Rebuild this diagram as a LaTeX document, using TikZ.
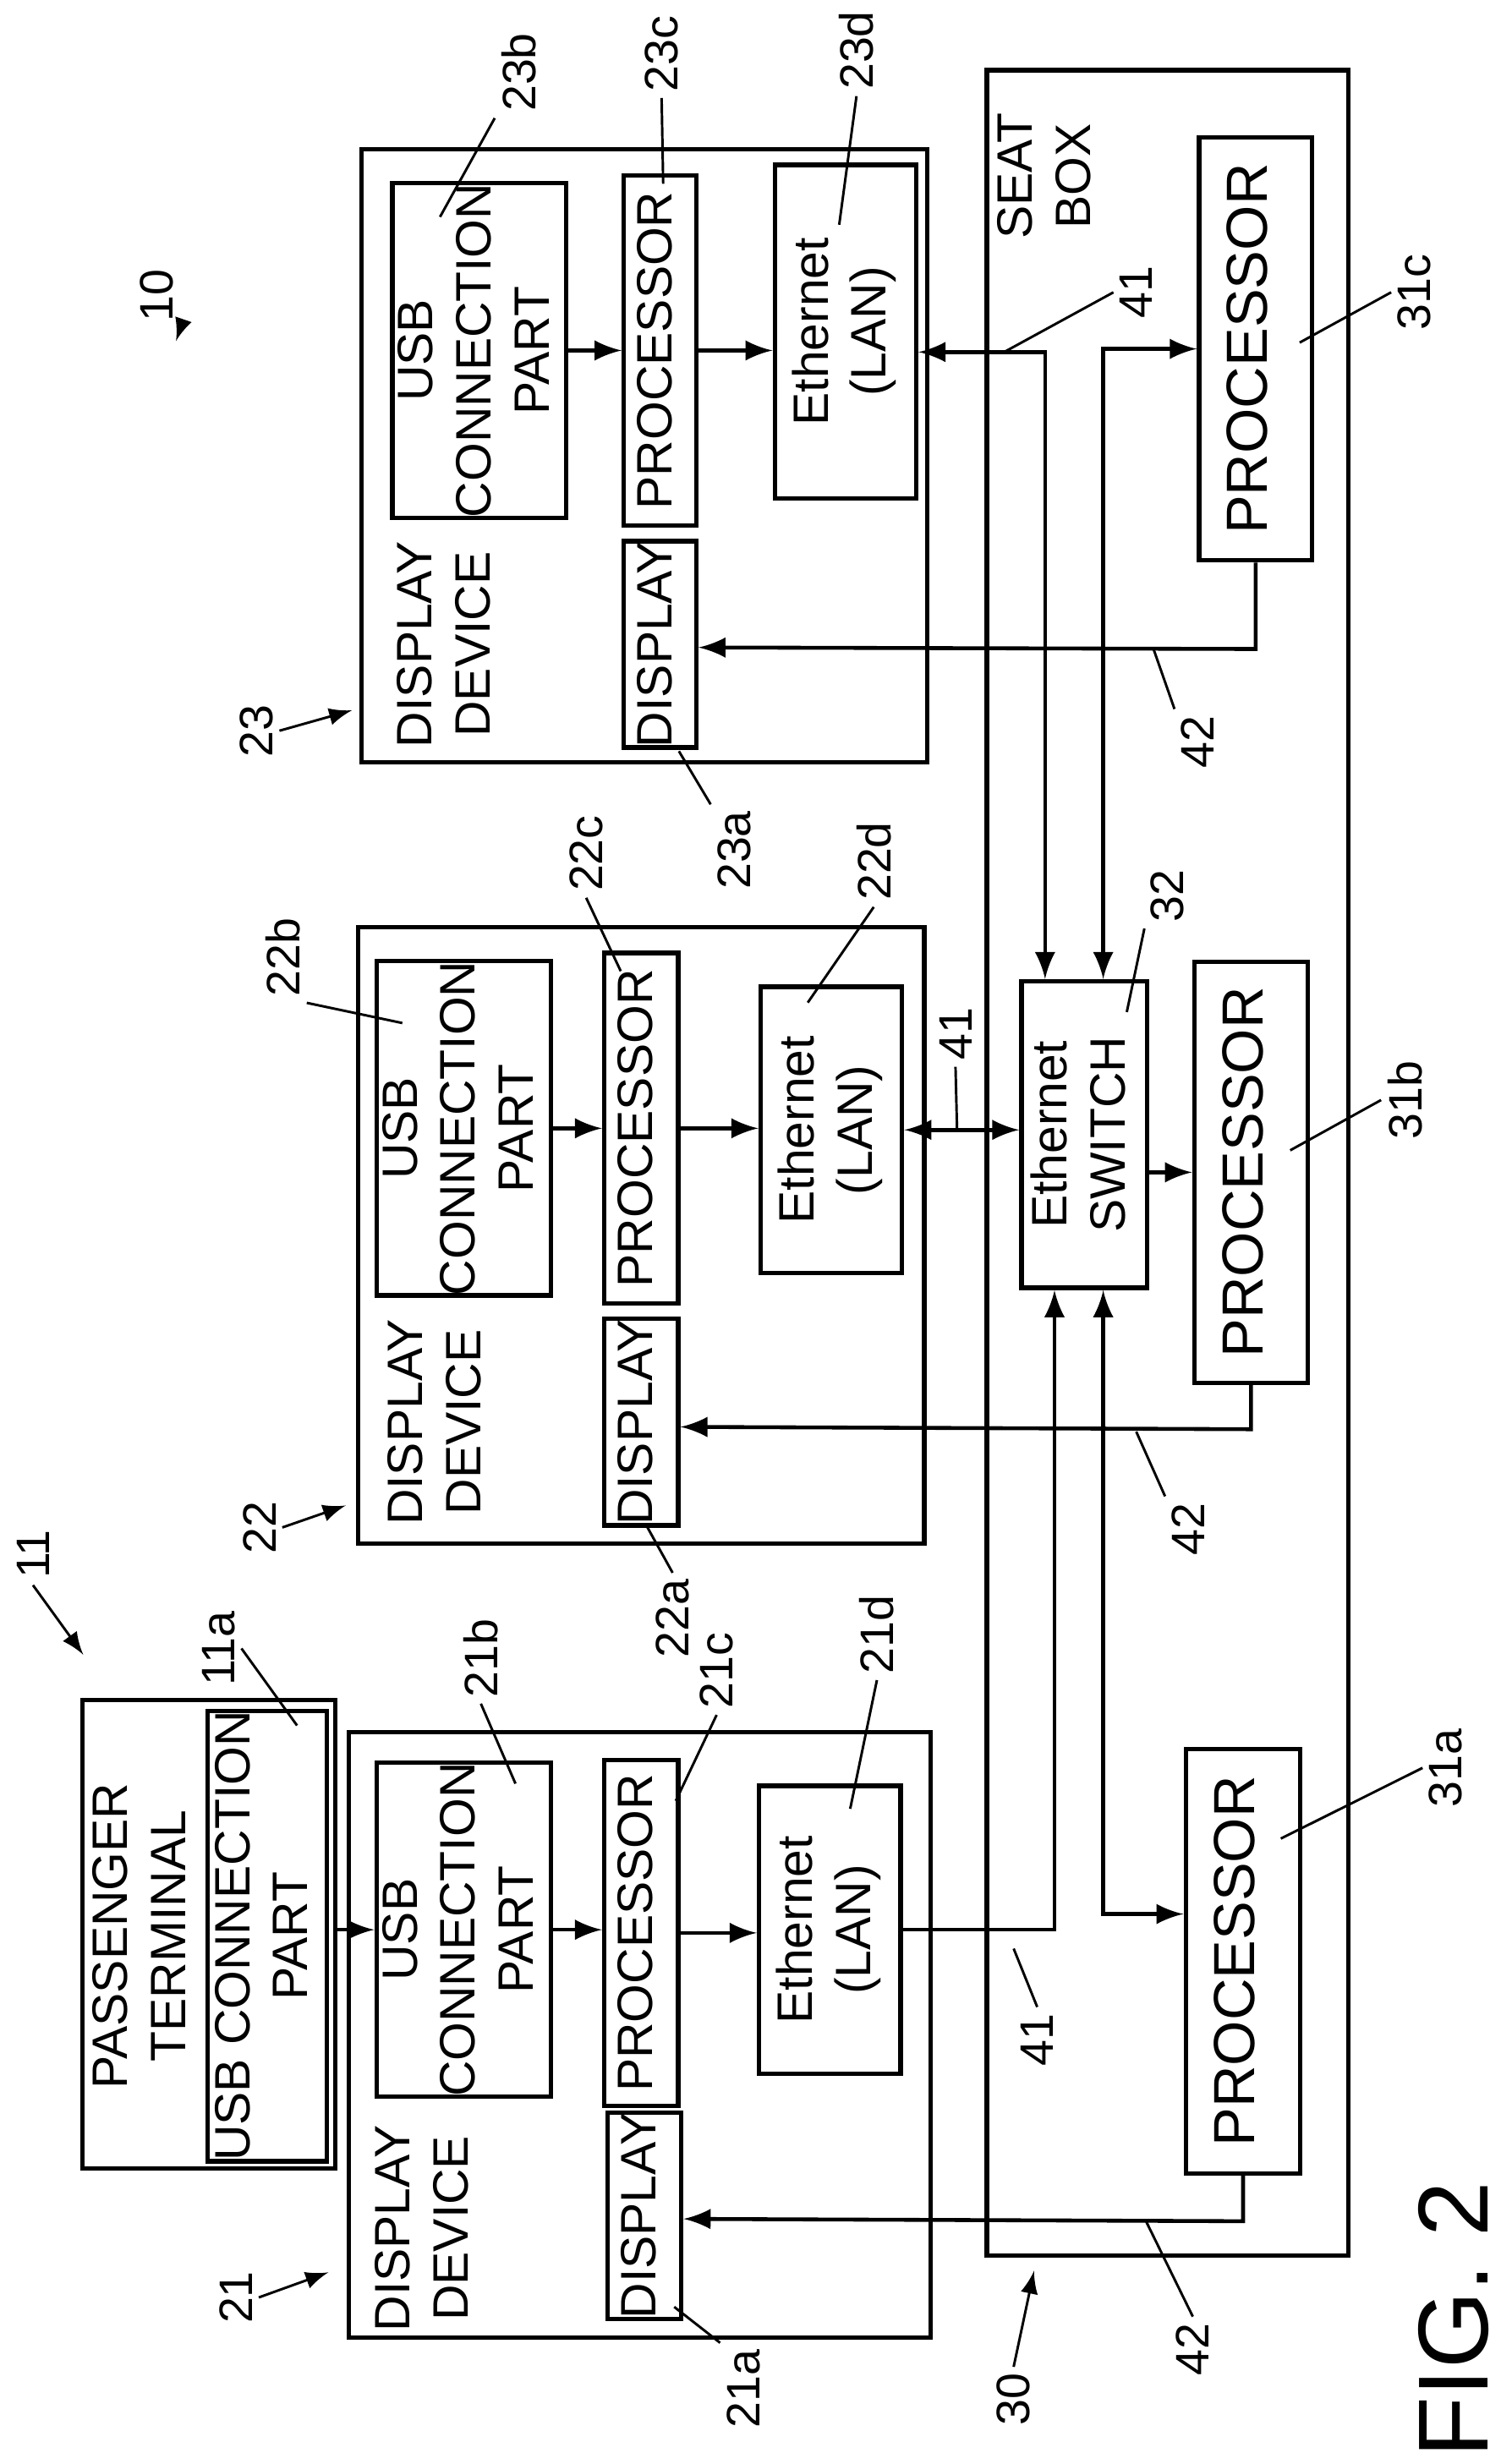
\documentclass[tikz,border=0pt]{standalone}
\usepackage{fontspec}
\setmainfont{Liberation Sans}
\usetikzlibrary{calc}
\usetikzlibrary{arrows}
\newcommand{\rt}[1]{\rotatebox{90}{\begin{tabular}{@{}c@{}}#1\end{tabular}}}

\begin{document}
\begin{tikzpicture}[x=0.01cm,y=-0.01cm,>=latex,
  box/.style={draw,line width=.8pt,inner sep=0pt,font=\fontsize{9}{10.5}\selectfont},
  txt/.style={inner sep=1pt,font=\fontsize{9}{10.5}\selectfont},
  num/.style={inner sep=1pt,rotate=90,font=\fontsize{8.5}{9.5}\selectfont},
  wire/.style={line width=.7pt},
  lead/.style={line width=.45pt}]
  \useasboundingbox (0,0) rectangle (962,1568);

  % display device 23
  \node[box,minimum width=3.6cm,minimum height=3.9cm] (d23) at (410,290) {};
  \node[box,minimum width=1cm,minimum height=2.07cm] (b23) at (305,223) {\rt{USB\\CONNECTION\\PART}};
  \node[box,minimum width=.46cm,minimum height=2.23cm] (c23) at (420,223) {\rt{PROCESSOR}};
  \node[box,minimum width=.9cm,minimum height=2.12cm] (e23) at (538,211) {\rt{Ethernet\\(LAN)}};
  \node[box,minimum width=.46cm,minimum height=1.3cm] (a23) at (420,410) {\rt{DISPLAY}};
  \node[txt] (t23) at (286,410) {\rt{DISPLAY\\DEVICE}};

  % display device 22
  \node[box,minimum width=3.6cm,minimum height=3.92cm] (d22) at (408,786) {};
  \node[box,minimum width=1cm,minimum height=2.07cm] (b22) at (295,718) {\rt{USB\\CONNECTION\\PART}};
  \node[box,minimum width=.47cm,minimum height=2.23cm] (c22) at (408,718) {\rt{PROCESSOR}};
  \node[box,minimum width=.9cm,minimum height=1.82cm] (e22) at (529,719) {\rt{Ethernet\\(LAN)}};
  \node[box,minimum width=.47cm,minimum height=1.3cm] (a22) at (408,905) {\rt{DISPLAY}};
  \node[txt] (t22) at (280,905) {\rt{DISPLAY\\DEVICE}};

  % display device 21
  \node[box,minimum width=3.7cm,minimum height=3.85cm] (d21) at (407,1295) {};
  \node[box,minimum width=1cm,minimum height=2.05cm] (b21) at (295,1228) {\rt{USB\\CONNECTION\\PART}};
  \node[box,minimum width=.47cm,minimum height=2.2cm] (c21) at (408,1230) {\rt{PROCESSOR}};
  \node[box,minimum width=.9cm,minimum height=1.83cm] (e21) at (528,1228) {\rt{Ethernet\\(LAN)}};
  \node[box,minimum width=.47cm,minimum height=1.3cm] (a21) at (410,1410) {\rt{DISPLAY}};
  \node[txt] (t21) at (272,1418) {\rt{DISPLAY\\DEVICE}};

  % passenger terminal
  \node[box,minimum width=1.61cm,minimum height=2.98cm] (pt) at (133,1231) {};
  \node[box,minimum width=.76cm,minimum height=2.85cm] (pu) at (170,1232) {\rt{USB CONNECTION\\PART}};
  \node[txt] (ptt) at (92,1232) {\rt{PASSENGER\\TERMINAL}};

  % seat box
  \node[box,minimum width=2.3cm,minimum height=13.9cm] (sb) at (743,740) {};
  \node[txt] (sbt) at (668,112) {\rt{SEAT\\BOX}};
  \node[box,minimum width=.72cm,minimum height=2.69cm] (p31c) at (799,222) {\rt{\fontsize{10.5}{12}\selectfont PROCESSOR}};
  \node[box,minimum width=.8cm,minimum height=1.95cm] (sw) at (690,722) {\rt{Ethernet\\SWITCH}};
  \node[box,minimum width=.72cm,minimum height=2.68cm] (p31b) at (796,746) {\rt{\fontsize{10.5}{12}\selectfont PROCESSOR}};
  \node[box,minimum width=.73cm,minimum height=2.7cm] (p31a) at (791,1248) {\rt{\fontsize{10.5}{12}\selectfont PROCESSOR}};

  % internal arrows
  \draw[wire,->] (b23) -- (c23);
  \draw[wire,->] (c23.east) -- (c23.east -| e23.west);
  \draw[wire,->] (b22) -- (c22);
  \draw[wire,->] (c22) -- (c22 -| e22.west);
  \draw[wire,->] (pt.east |- b21) -- (b21);
  \draw[wire,->] (b21) -- (b21 -| c21.west);
  \draw[wire,->] (c21) -- (c21 -| e21.west);

  % network
  \coordinate (s1) at ($(sw.north)+(-25,0)$);
  \coordinate (s2) at ($(sw.north)+(12,0)$);
  \coordinate (s3) at ($(sw.south)+(-19,0)$);
  \coordinate (s4) at ($(sw.south)+(12,0)$);
  \draw[wire,<->] ($(e23.east)+(0,13)$) -| (s1);
  \draw[wire,<->] (p31c.west) -| (s2);
  \draw[wire,<->] (e22.east) -- (e22.east -| sw.west);
  \draw[wire,->] (sw.east |- p31b.west) -- (p31b.west);
  \draw[wire,->] (e21.east) -| (s3);
  \draw[wire,<->] (s4) |- ($(p31a.west)+(0,-30)$);
  \draw[wire,->] (p31c.south) -- ++(0,55) -- (a23.east |- 0,412);
  \draw[wire,->] (p31b.south) -- ++(0,28) -- (a22.east |- 0,908);
  \draw[wire,->] (p31a.south) -- ++(0,29) -- (a21.east |- 0,1412);

  % reference numerals
  \node[num] (n10) at (100,188) {10};
  \draw[lead,->] (n10.south west) -- (112,217);
  \node[num] (n11) at (21,989) {11};
  \draw[lead,->] (n11.west) -- (53,1053);
  \node[num] (n21) at (150,1462) {21};
  \draw[lead,->] (n21.south) -- (209,1446);
  \node[num] (n22) at (165,972) {22};
  \draw[lead,->] (n22.south) -- (220,958);
  \node[num] (n23) at (163,465) {23};
  \draw[lead,->] (n23.south) -- (224,452);
  \node[num] (n30) at (645,1527) {30};
  \draw[lead,->] (n30.east) -- (658,1445);

  \node[num] (l23b) at (330,46) {23b};  \draw[lead] (l23b.north west) -- (280,138);
  \node[num] (l23c) at (421,34) {23c};  \draw[lead] (l23c.west) -- (422,117);
  \node[num] (l23d) at (545,32) {23d};  \draw[lead] (l23d.west) -- (534,143);
  \node[num] (l23a) at (467,541) {23a}; \draw[lead] (l23a.north east) -- (432,478);
  \node[num] (l22b) at (180,609) {22b}; \draw[lead] (l22b.south west) -- (256,651);
  \node[num] (l22c) at (373,543) {22c}; \draw[lead] (l22c.west) -- (395,618);
  \node[num] (l22d) at (556,548) {22d}; \draw[lead] (l22d.west) -- (514,638);
  \node[num] (l22a) at (428,1030) {22a};\draw[lead] (l22a.east) -- (412,972);
  \node[num] (l21b) at (306,1055) {21b};\draw[lead] (l21b.west) -- (328,1135);
  \node[num] (l21c) at (456,1063) {21c};\draw[lead] (l21c.west) -- (430,1146);
  \node[num] (l21d) at (558,1040) {21d};\draw[lead] (l21d.west) -- (541,1151);
  \node[num] (l21a) at (473,1520) {21a};\draw[lead] (l21a.north east) -- (429,1468);
  \node[num] (l11a) at (139,1049) {11a};\draw[lead] (l11a.south) -- (189,1098);
  \node[num] (l31c) at (900,186) {31c}; \draw[lead] (l31c.north) -- (827,218);
  \node[num] (l31b) at (894,700) {31b}; \draw[lead] (l31b.north) -- (821,732);
  \node[num] (l31a) at (920,1125) {31a};\draw[lead] (l31a.north) -- (815,1170);
  \node[num] (l32) at (743,570) {32};   \draw[lead] (l32.north west) -- (717,644);
  \node[num] (l41c) at (723,186) {41};  \draw[lead] (l41c.north) -- (639,224);
  \node[num] (l41b) at (608,658) {41};  \draw[lead] (l41b.west) -- (609,719);
  \node[num] (l41a) at (660,1298) {41}; \draw[lead] (l41a.east) -- (645,1240);
  \node[num] (l42c) at (762,472) {42};  \draw[lead] (l42c.north east) -- (734,413);
  \node[num] (l42b) at (756,973) {42};  \draw[lead] (l42b.north east) -- (723,911);
  \node[num] (l42a) at (759,1495) {42}; \draw[lead] (l42a.east) -- (729,1413);

  \node[inner sep=0pt,rotate=90,font=\fontsize{18}{20}\selectfont] (fig) at (925,1476) {FIG. 2};
\end{tikzpicture}
\end{document}
